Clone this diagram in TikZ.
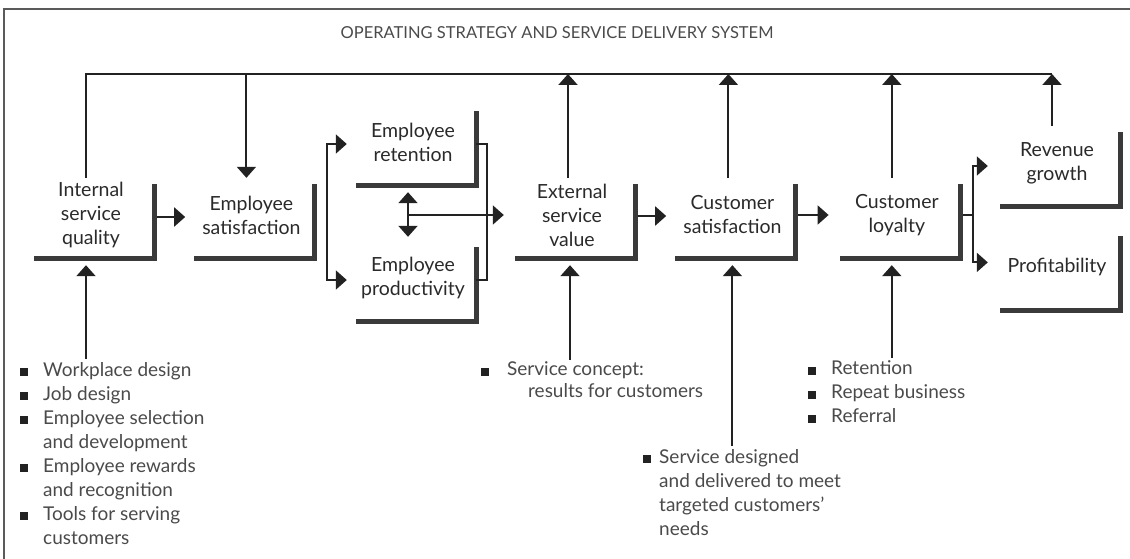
\documentclass[tikz,border=0pt]{standalone}
\usepackage{fontspec}
\setmainfont{Lato}
\usetikzlibrary{arrows.meta,calc,positioning}
\definecolor{inkcol}{HTML}{222222}
\definecolor{barcol}{HTML}{3A3A3A}
\definecolor{textcol}{HTML}{2A2A2A}
\definecolor{listcol}{HTML}{4A4A4A}
\definecolor{framecol}{HTML}{5A5A5A}
\newcommand{\sqbul}{\textcolor{inkcol}{\rule{8pt}{8pt}}}

\begin{document}
\begin{tikzpicture}[x=1pt,y=-1pt,
  box/.style={minimum width=120pt,minimum height=74pt,inner sep=0pt,align=center,
              text=textcol,font=\fontsize{19.5}{24}\selectfont},
  bar/.style={line width=5pt,draw=barcol},
  conn/.style={line width=2pt,draw=inkcol},
  arr/.style={conn,-{Triangle[width=19pt,length=11pt]}},
  dblarr/.style={conn,{Triangle[width=19pt,length=11pt]}-{Triangle[width=19pt,length=11pt]}},
  list/.style={inner sep=0pt,anchor=base west,text=listcol,font=\fontsize{19}{24}\selectfont}]

\useasboundingbox (0,0) rectangle (1130,559);
\draw[line width=1.3pt,framecol] (4,559) -- (4,9) -- (1130,9);

\node[text=listcol,font=\fontsize{16.5}{20}\selectfont] (title) at (557,33)
  {OPERATING STRATEGY AND SERVICE DELIVERY SYSTEM};

% the chain of boxes
\node[box] (isq) at (91,215) {Internal\\service\\quality};
\node[box,right=40pt of isq] (esat) {Employee\\satisfaction};
\node[box] (eret) at (413,142) {Employee\\retention};
\node[box] (eprod) at (413,278) {Employee\\productivity};
\node[box] (esv) at (572,215) {External\\service\\value};
\node[box,right=40pt of esv] (csat) {Customer\\satisfaction};
\node[box,right=44pt of csat] (cloy) {Customer\\loyalty};
\node[box] (rev) at (1057,163) {Revenue\\growth};
\node[box,below=30pt of rev] (prof) {Profitability};

% L-shaped bars right of and under each box
\foreach \b in {isq,esat,eret,eprod,esv,csat,cloy,rev,prof}
  \draw[bar] ([shift={(3pt,-6pt)}]\b.north east) -- ([shift={(3pt,-6pt)}]\b.south east)
    -- ([shift={(3pt,-6pt)}]\b.south west);

% top line of the operating strategy
\coordinate (bus) at (0,74);
\foreach \n/\dx in {isq/-5,esat/-5,esv/-4,csat/-4,cloy/-5,rev/-5}
  \coordinate (\n-up) at ([xshift=\dx pt]\n.north);
\draw[conn] (isq-up) -- (isq-up |- bus) -- (rev-up |- bus);
\draw[arr] (esat-up |- bus) -- (esat-up);
\foreach \n in {esv,csat,cloy,rev}
  \draw[arr] (\n-up) -- (\n-up |- bus);

% links along the chain
\draw[arr] ([shift={(5.5pt,-2pt)}]isq.east) -- ([shift={(-6pt,-2pt)}]esat.west);
\coordinate (efork) at ([xshift=15pt]esat.east);
\draw[dblarr] ([shift={(-6pt,-2pt)}]eret.west) -| (efork) |- ([shift={(-6pt,-2pt)}]eprod.west);
\coordinate (emerge) at ($(eret.east)!0.5!(eprod.east)+(14pt,0)$);
\draw[conn] ([shift={(3pt,-2pt)}]eret.east) -| (emerge) |- ([shift={(3pt,-2pt)}]eprod.east);
\coordinate (dtop) at ([shift={(-5pt,-13pt)}]eret.south);
\coordinate (dbot) at ([shift={(-5pt,4pt)}]eprod.north);
\draw[dblarr] (dtop) -- (dbot);
\draw[arr] (dtop |- esv.west) -- ([xshift=-8pt]esv.west);
\draw[arr] ([shift={(5.5pt,-1pt)}]esv.east) -- ([shift={(-6pt,-1pt)}]csat.west);
\draw[arr] ([xshift=5.5pt]csat.east) -- ([xshift=-8pt]cloy.west);
\coordinate (cfork) at ([xshift=16pt]cloy.east);
\draw[conn] ([xshift=5.5pt]cloy.east) -- (cfork);
\draw[dblarr] ([shift={(-9pt,-3pt)}]rev.west) -| (cfork) |- ([shift={(-9pt,5pt)}]prof.west);

% lists of drivers
\node[list] (isqlist) at (20,376) {\begin{tabular}[t]{@{}l@{\hspace{15pt}}l@{}}
  \sqbul & Workplace design\\
  \sqbul & Job design\\
  \sqbul & Employee selection\\
         & and development\\
  \sqbul & Employee rewards\\
         & and recognition\\
  \sqbul & Tools for serving\\
         & customers
  \end{tabular}};
\node[list,font=\fontsize{19}{22}\selectfont] (esvlist) at (481,375.5)
  {\begin{tabular}[t]{@{}l@{\hspace{18pt}}l@{}}
  \sqbul & Service concept:\\
         & \hspace{21pt}results for customers
  \end{tabular}};
\node[list] (csatlist) at (643,463) {\begin{tabular}[t]{@{}l@{\hspace{8pt}}l@{}}
  \sqbul & Service designed\\
         & and delivered to meet\\
         & targeted customers'\\
         & needs
  \end{tabular}};
\node[list] (cloylist) at (808,374.5) {\begin{tabular}[t]{@{}l@{\hspace{15pt}}l@{}}
  \sqbul & Retention\\
  \sqbul & Repeat business\\
  \sqbul & Referral
  \end{tabular}};

\foreach \n/\lst/\dx in {isq/isqlist/-5,esv/esvlist/-2,csat/csatlist/0,cloy/cloylist/-5}{
  \coordinate (\n-dn) at ([shift={(\dx pt,-13pt)}]\n.south);
  \draw[arr] (\n-dn |- \lst.north) -- (\n-dn);
}
\end{tikzpicture}
\end{document}
